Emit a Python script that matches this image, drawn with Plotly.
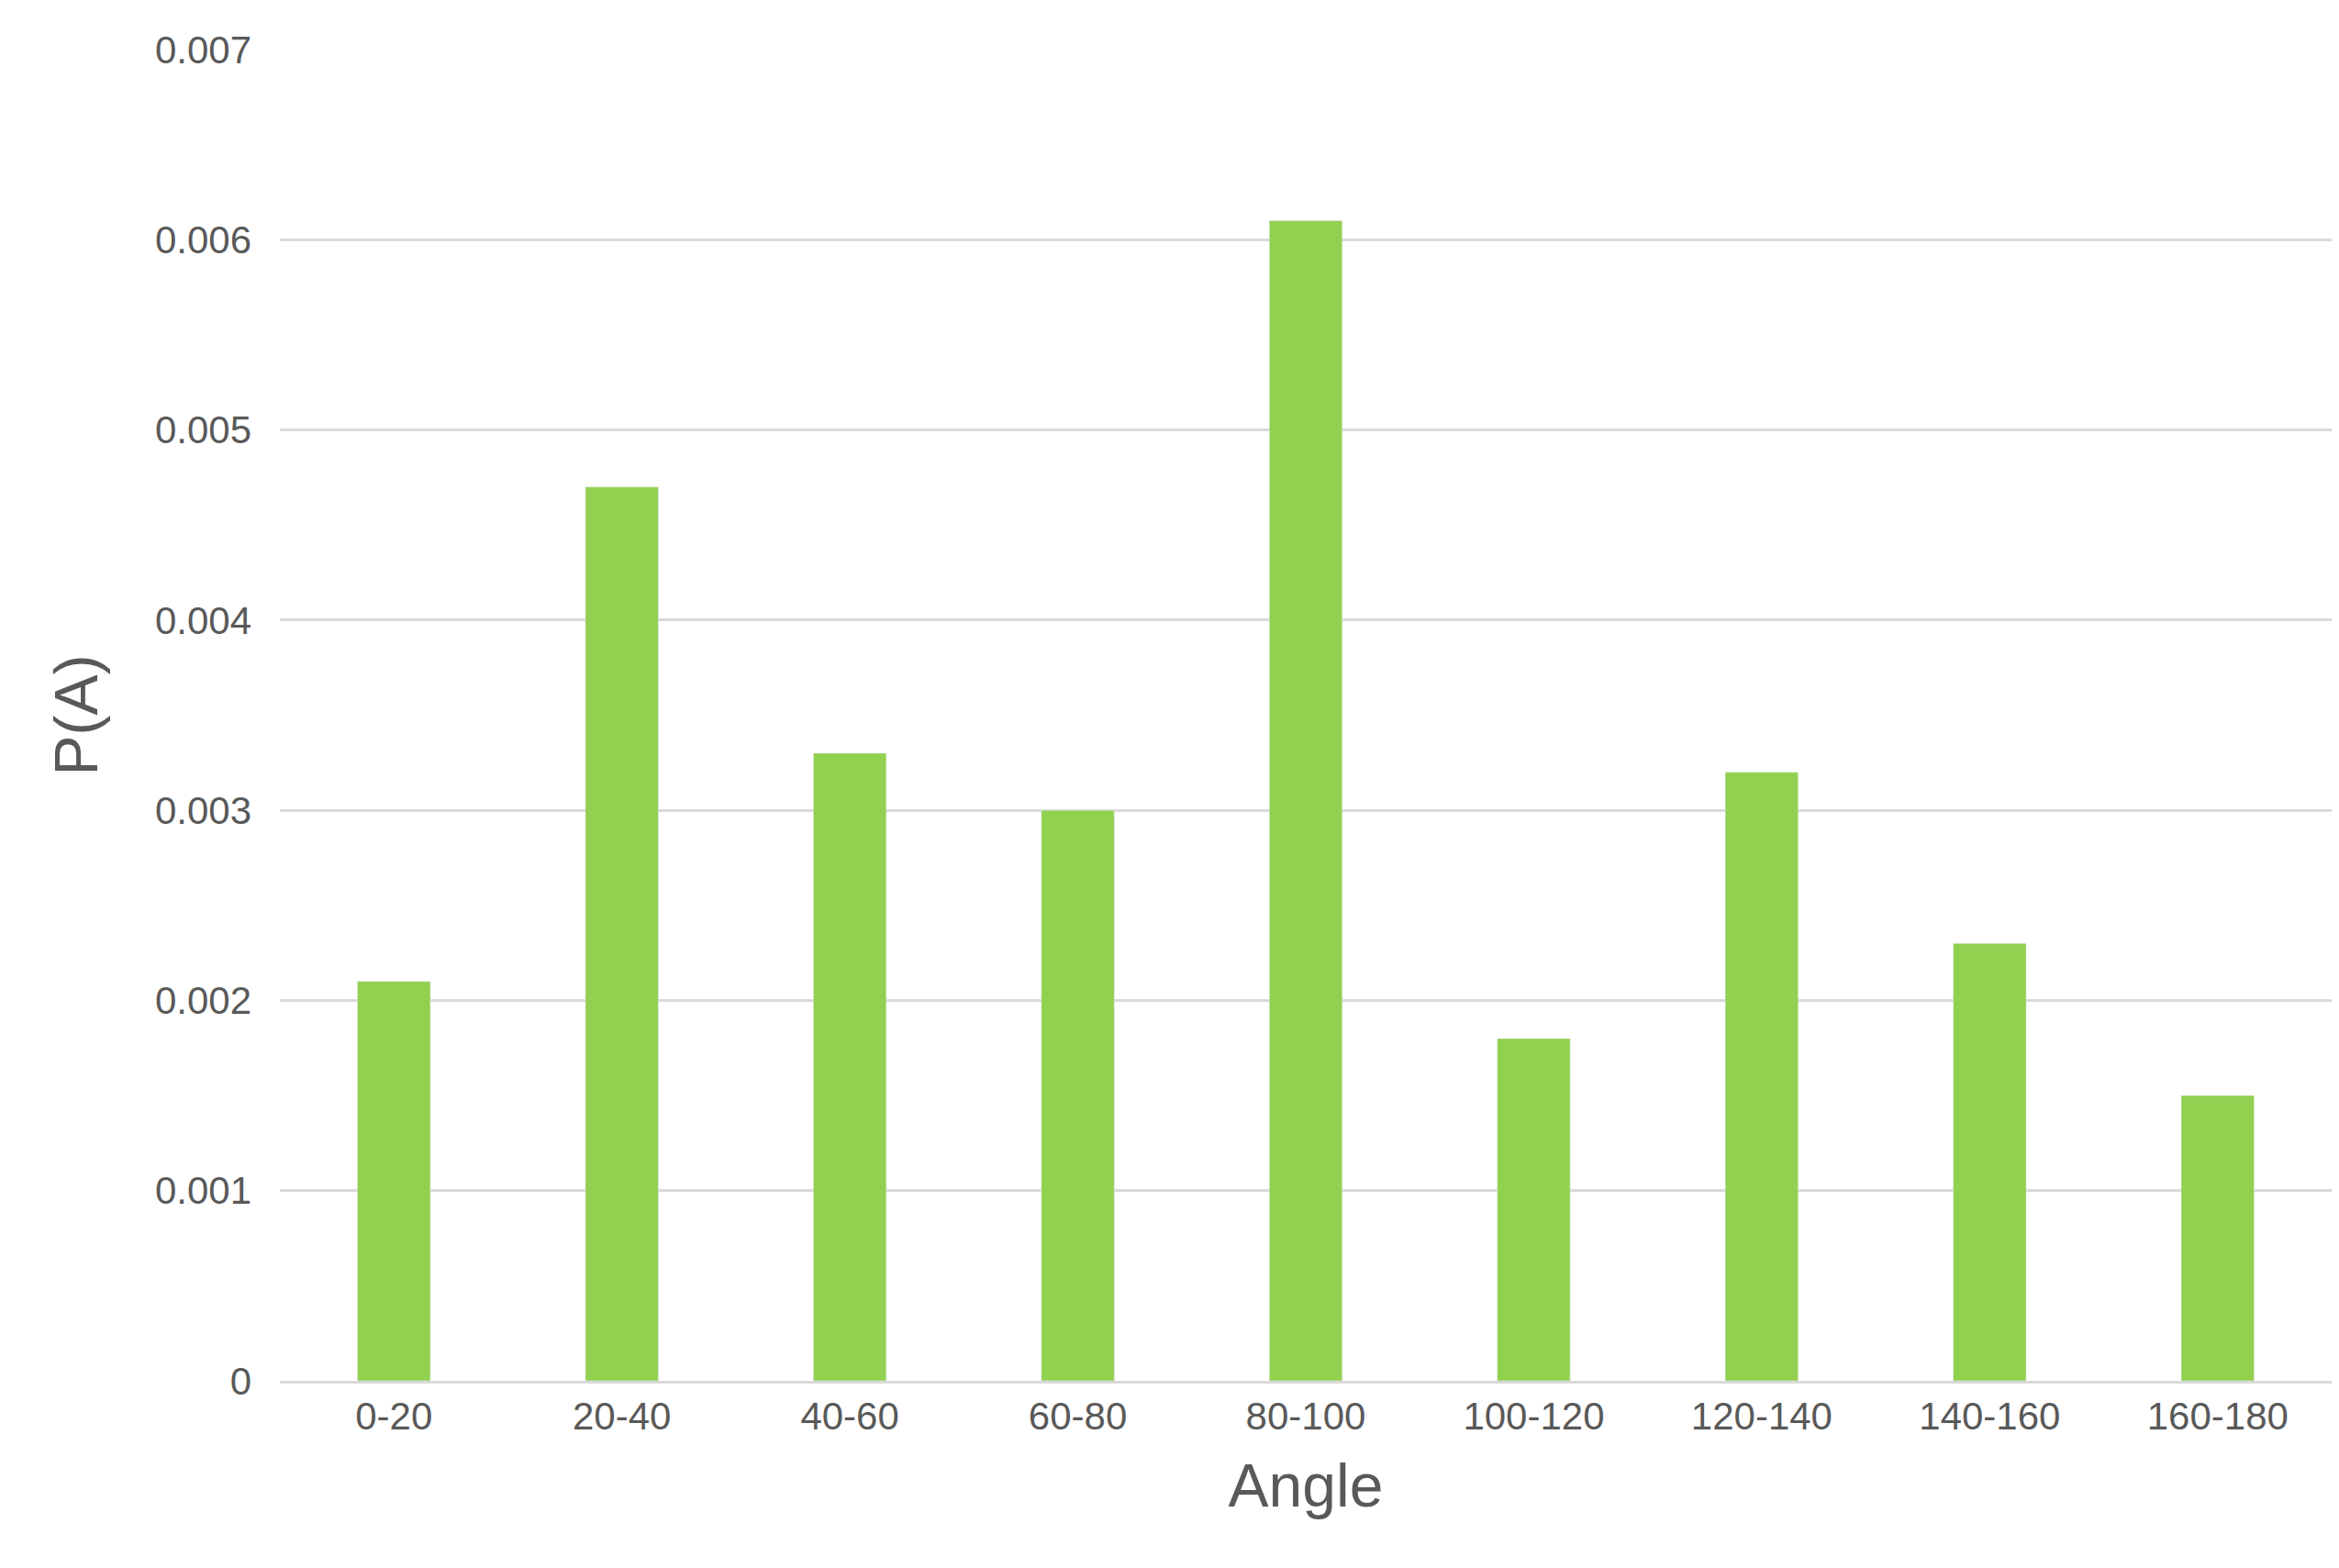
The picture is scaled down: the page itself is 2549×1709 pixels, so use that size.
import plotly.graph_objects as go

categories = ["0-20","20-40","40-60","60-80","80-100","100-120","120-140","140-160","160-180"]
values = [0.0021,0.0047,0.0033,0.0030,0.0061,0.0018,0.0032,0.0023,0.0015]
y_ticks = [0,0.001,0.002,0.003,0.004,0.005,0.006,0.007]
y_tick_labels = ["0","0.001","0.002","0.003","0.004","0.005","0.006","0.007"]

fig = go.Figure(go.Bar(x=categories, y=values, marker_color="#92D050", width=0.32))
fig.update_layout(
    width=2549, height=1709, plot_bgcolor="white", paper_bgcolor="white",
    margin=dict(l=297, r=16, t=46, b=212),
    font=dict(family="Liberation Sans, Arial", color="#595959", size=42),
    showlegend=False,
    xaxis=dict(title=dict(text="Angle", font=dict(size=66), standoff=30),
               showline=True, linecolor="#D9D9D9", linewidth=3, ticks="", ticklen=0),
    yaxis=dict(title=dict(text="P(A)", font=dict(size=66), standoff=40),
               range=[0,0.007], tickvals=y_ticks, ticktext=y_tick_labels,
               gridcolor="#D9D9D9", gridwidth=3, zeroline=False, ticks="",
               ticklabelstandoff=30),
)
fig.write_html("out.html")
